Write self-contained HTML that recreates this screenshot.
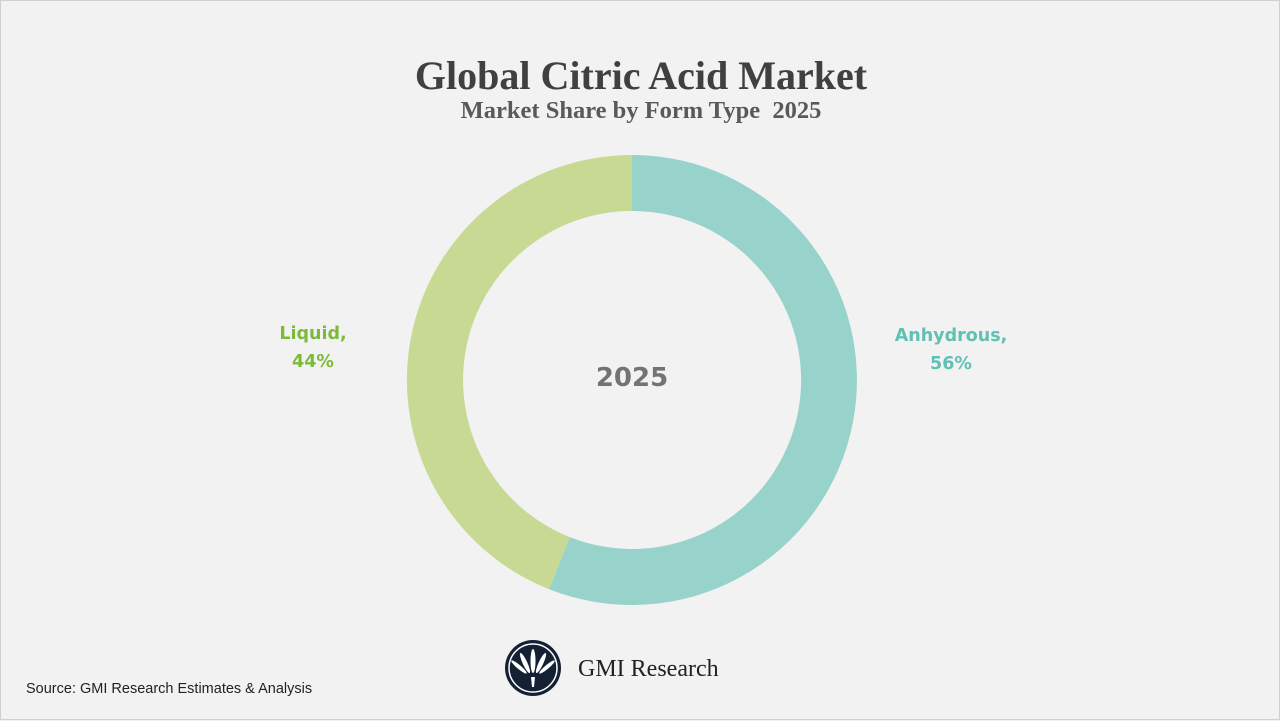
<!DOCTYPE html>
<html><head><meta charset="utf-8"><style>
html,body{margin:0;padding:0}
body{width:1280px;height:720px;background:#f2f2f2;position:relative;overflow:hidden;border:1px solid #d0d0d0;box-sizing:border-box}
.t{position:absolute;left:0;width:1280px;text-align:center;font-family:"Liberation Serif",serif;font-weight:bold;color:#404040}
.l{position:absolute;font-family:"DejaVu Sans","Liberation Sans",sans-serif;font-weight:bold;font-size:17.5px;text-align:center;line-height:28px}
</style></head><body>
<div class="t" style="top:51px;font-size:40px;">Global Citric Acid Market</div>
<div class="t" style="top:96px;font-size:24.5px;color:#595959">Market Share by Form Type&nbsp; 2025</div>
<svg width="1280" height="720" style="position:absolute;left:0;top:0">
<path d="M631,154 A225,225 0 1 1 548.1,588.2 L568.8,536.1 A169,169 0 1 0 631,210 Z" fill="#98d3cb"/>
<path d="M548.1,588.2 A225,225 0 0 1 631,154 L631,210 A169,169 0 0 0 568.8,536.1 Z" fill="#c8d993"/>
<text x="631" y="385" text-anchor="middle" font-family="DejaVu Sans, Liberation Sans, sans-serif" font-weight="bold" font-size="26" fill="#737373">2025</text>
<circle cx="532" cy="667" r="28" fill="#142033"/>
<circle cx="532" cy="667" r="24" fill="none" stroke="#fff" stroke-width="1.5"/>
<g fill="#fff">
<path d="M530,676 L534,676 L533,686 L531,686Z"/>
<ellipse cx="532" cy="660" rx="2.5" ry="12"/>
<ellipse cx="524" cy="662" rx="2.3" ry="11" transform="rotate(-25 524 662)"/>
<ellipse cx="540" cy="662" rx="2.3" ry="11" transform="rotate(25 540 662)"/>
<ellipse cx="518" cy="666" rx="2" ry="10" transform="rotate(-50 518 666)"/>
<ellipse cx="546" cy="666" rx="2" ry="10" transform="rotate(50 546 666)"/>
</g>
</svg>
<div style="position:absolute;left:577px;top:655px;font-family:'Liberation Serif',serif;font-size:24px;color:#222">GMI Research</div>
<div class="l" style="left:262px;top:319px;width:100px;color:#7cba3c">Liquid,<br>44%</div>
<div class="l" style="left:880px;top:321px;width:140px;color:#5fc0b4">Anhydrous,<br>56%</div>
<div style="position:absolute;left:25px;top:680px;font-family:'Liberation Sans',sans-serif;font-size:14.5px;color:#222">Source: GMI Research Estimates &amp; Analysis</div>
</body></html>
